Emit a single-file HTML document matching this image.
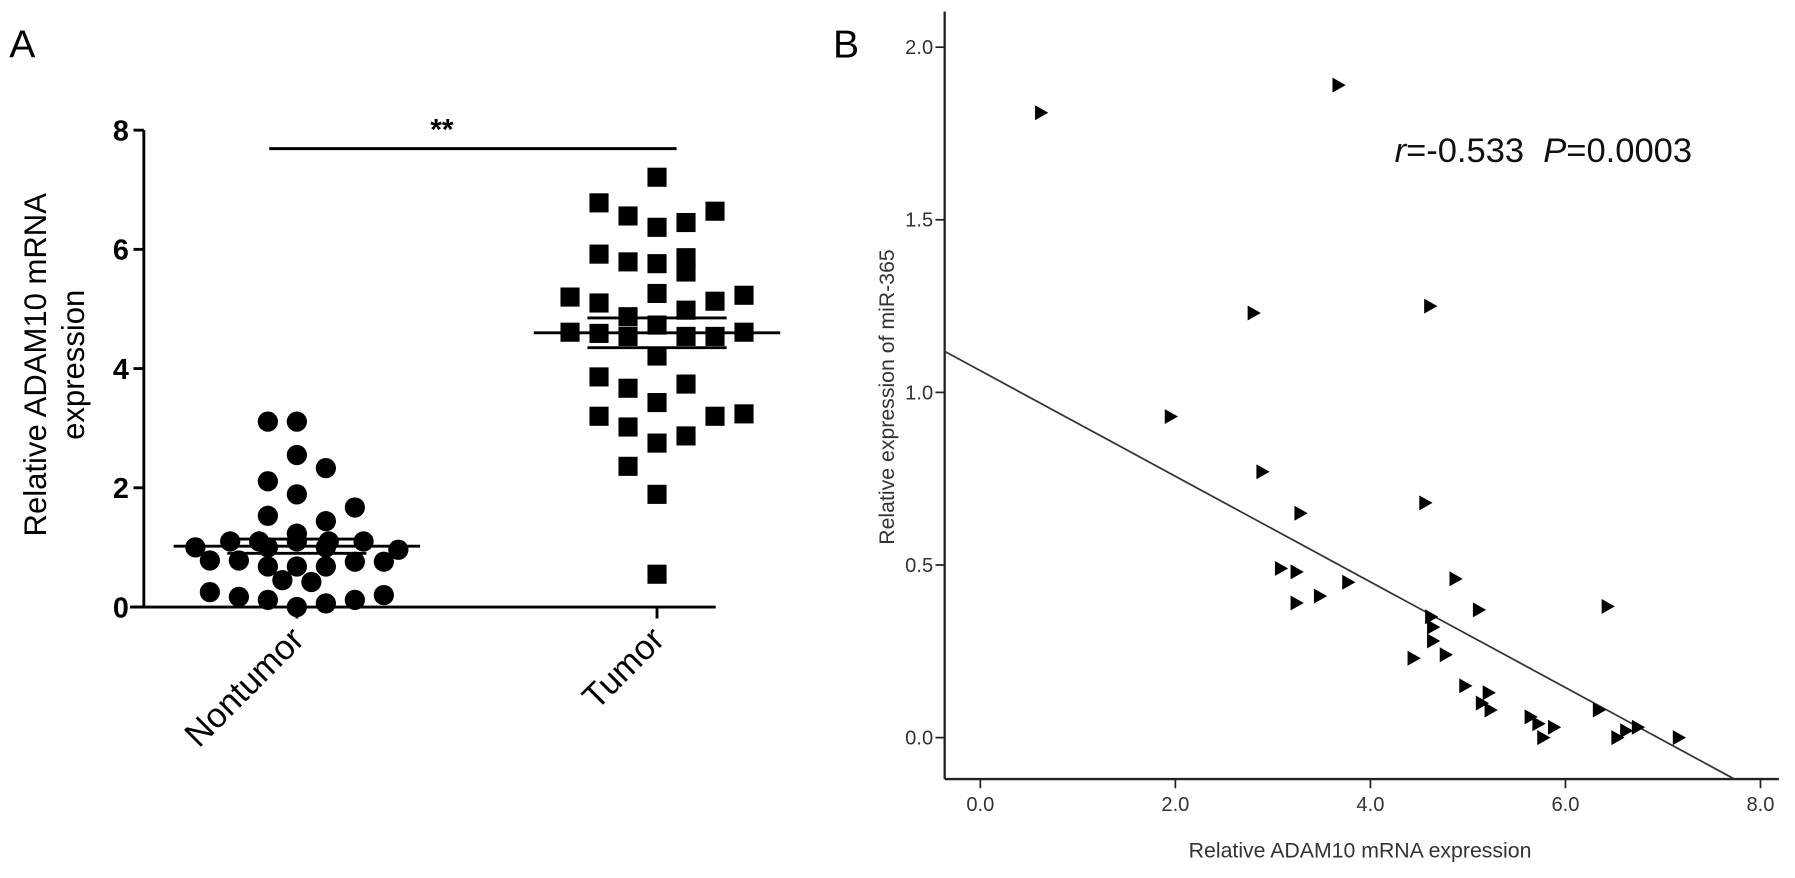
<!DOCTYPE html>
<html><head><meta charset="utf-8"><style>
html,body{margin:0;padding:0;background:#fff;}
svg{display:block;font-family:"Liberation Sans",Arial,sans-serif;}
</style></head><body>
<svg id="fig" width="1795" height="878" viewBox="0 0 1560 763" preserveAspectRatio="none" xmlns="http://www.w3.org/2000/svg">
<rect x="0" y="0" width="1560" height="763" fill="#fff"/>
<g id="pa"></g>
<g id="pb"></g>
</svg>
<script>
// ---------- Panel A data ----------
const aCategories = ["Nontumor", "Tumor"];
const aTicks = [0, 2, 4, 6, 8];
const nonValues = [3.11,3.11,2.55,2.33,2.11,1.89,1.67,1.53,1.44,1.23,1.1,1.1,1.1,1.1,1.1,1.0,0.96,1.0,1.0,0.78,0.78,0.68,0.68,0.68,0.76,0.76,0.45,0.42,0.25,0.17,0.12,0.0,0.06,0.12,0.2];
const nonSlots  = [-1,0,0,1,-1,0,2,-1,1,0,-2.3,-1.3,0,1.1,2.3,-3.5,3.5,-1,1,-3,-2,-1,0,1,2,3,-0.5,0.5,-3,-2,-1,0,1,2,3];
const tumValues = [7.21,6.78,6.56,6.37,6.45,6.64,5.92,5.79,5.76,5.86,5.62,5.2,5.1,5.26,5.13,5.23,4.87,4.98,4.61,4.59,4.54,4.73,4.54,4.54,4.61,4.21,3.86,3.67,3.74,3.43,3.2,3.2,3.24,3.02,2.75,2.87,2.36,1.89,0.55];
const tumSlots  = [0,-2,-1,0,1,2,-2,-1,0,1,1,-3,-2,0,2,3,-1,1,-3,-2,-1,0,1,2,3,0,-2,-1,1,0,-2,2,3,-1,0,1,-1,0,0];
const aMeans = [1.02, 4.6];
const aSemHi = [1.14, 4.85];
const aSemLo = [0.90, 4.35];
const aSigLevel = 7.69;
// ---------- Panel B data ----------
const bXTicks = [0, 2, 4, 6, 8];
const bYTicks = [0, 0.5, 1.0, 1.5, 2.0];
const bX = [0.62,3.67,2.80,4.61,1.95,2.89,3.28,4.56,3.08,3.24,3.77,3.24,3.48,4.87,5.11,4.62,4.64,4.64,4.77,4.44,4.97,5.21,5.14,5.23,5.64,5.72,5.88,5.77,6.34,6.53,6.62,6.74,7.16,6.43];
const bY = [1.81,1.89,1.23,1.25,0.93,0.77,0.65,0.68,0.49,0.48,0.45,0.39,0.41,0.46,0.37,0.35,0.32,0.28,0.24,0.23,0.15,0.13,0.10,0.08,0.06,0.04,0.03,0.00,0.08,0.00,0.02,0.03,0.00,0.38];
const bFit = [1.063, -0.153];
const bFitRange = [-0.37, 7.73];

const NS = "http://www.w3.org/2000/svg";
function mk(parent, tag, attrs, text){
  const e = document.createElementNS(NS, tag);
  for (const k in attrs) e.setAttribute(k, attrs[k]);
  if (text !== undefined) e.textContent = text;
  parent.appendChild(e);
  return e;
}
// ---------- Panel A ----------
const pa = document.getElementById('pa');
const aAxisX = 125, aY0 = 527.5, aPpu = 51.8, aSlot = 25.2;
const aCenters = [258, 571];
const ay = v => aY0 - v * aPpu;
const ax = (c, s) => aCenters[c] + s * aSlot;

let t = mk(pa, 'text', {x: 8, y: 50, 'font-size': 34}, 'A');



let l = mk(pa, 'line', {x1: aAxisX, y1: ay(8), x2: aAxisX, y2: aY0, stroke: '#000', 'stroke-width': 2.5});


l = mk(pa, 'line', {x1: 113, y1: aY0, x2: 622, y2: aY0, stroke: '#000', 'stroke-width': 2.5});



aTicks.forEach(v => {
  const tk = mk(pa, 'line', {x1: aAxisX - 9, y1: ay(v), x2: aAxisX, y2: ay(v), stroke: '#000', 'stroke-width': 2.5});
  
  
  const lb = mk(pa, 'text', {x: aAxisX - 13, y: ay(v) + 9, 'font-size': 25, 'font-weight': 'bold', 'text-anchor': 'end'}, String(v));
  
  
});
aCategories.forEach((c, i) => {
  const tk = mk(pa, 'line', {x1: aCenters[i], y1: aY0, x2: aCenters[i], y2: aY0 + 10, stroke: '#000', 'stroke-width': 2.5});
  
  
  const lb = mk(pa, 'text', {x: aCenters[i] + 8, y: aY0 + 30, 'font-size': 30, 'text-anchor': 'end', transform: `rotate(-45 ${aCenters[i] + 8} ${aY0 + 30})`}, c);
  
  
});
const yt = mk(pa, 'text', {x: 0, y: 0, 'font-size': 27, 'text-anchor': 'middle', transform: 'translate(40 317) rotate(-90)'});


mk(yt, 'tspan', {x: 0, dy: 0}, 'Relative ADAM10 mRNA');
mk(yt, 'tspan', {x: 0, dy: 33}, 'expression');

nonValues.forEach((v, i) => {
  const c = mk(pa, 'circle', {cx: ax(0, nonSlots[i]), cy: ay(v), r: 8.8, fill: '#000'});
  
  
});
tumValues.forEach((v, i) => {
  const r = mk(pa, 'rect', {x: ax(1, tumSlots[i]) - 8.3, y: ay(v) - 8.3, width: 16.6, height: 16.6, fill: '#000'});
  
  
});
aMeans.forEach((m, i) => {
  const ml = mk(pa, 'line', {x1: ax(i, -4.25), y1: ay(m), x2: ax(i, 4.25), y2: ay(m), stroke: '#000', 'stroke-width': 2.5});
  
  
  [aSemHi[i], aSemLo[i]].forEach(s => {
    const sl = mk(pa, 'line', {x1: ax(i, -2.4), y1: ay(s), x2: ax(i, 2.4), y2: ay(s), stroke: '#000', 'stroke-width': 2.5});
    
    
  });
});
l = mk(pa, 'line', {x1: 234, y1: ay(aSigLevel), x2: 588, y2: ay(aSigLevel), stroke: '#000', 'stroke-width': 2.5});


t = mk(pa, 'text', {x: 384, y: ay(aSigLevel) - 8, 'font-size': 26, 'font-weight': 'bold', 'text-anchor': 'middle'}, '**');



// ---------- Panel B ----------
const pb = document.getElementById('pb');
const bAxisX = 821, bAxisY = 677, bX0 = 852, bXppu = 84.75, bY0 = 641, bYppu = 300;
const bx = v => bX0 + v * bXppu;
const by = v => bY0 - v * bYppu;

t = mk(pb, 'text', {x: 724, y: 50, 'font-size': 34}, 'B');



l = mk(pb, 'line', {x1: bAxisX, y1: 10, x2: bAxisX, y2: bAxisY, stroke: '#222', 'stroke-width': 2});


l = mk(pb, 'line', {x1: bAxisX, y1: bAxisY, x2: 1546, y2: bAxisY, stroke: '#222', 'stroke-width': 2});



bYTicks.forEach(v => {
  const tk = mk(pb, 'line', {x1: bAxisX - 8, y1: by(v), x2: bAxisX, y2: by(v), stroke: '#222', 'stroke-width': 1.5});
  
  
  const lb = mk(pb, 'text', {x: bAxisX - 10, y: by(v) + 6, 'font-size': 17.5, fill: '#333', 'text-anchor': 'end'}, v.toFixed(1));
  
  
});
bXTicks.forEach(v => {
  const tk = mk(pb, 'line', {x1: bx(v), y1: bAxisY, x2: bx(v), y2: bAxisY + 8, stroke: '#222', 'stroke-width': 1.5});
  
  
  const lb = mk(pb, 'text', {x: bx(v), y: bAxisY + 28, 'font-size': 17.5, fill: '#333', 'text-anchor': 'middle'}, v.toFixed(1));
  
  
});
t = mk(pb, 'text', {x: 1182, y: 745, 'font-size': 18.5, fill: '#333', 'text-anchor': 'middle'}, 'Relative ADAM10 mRNA expression');


t = mk(pb, 'text', {x: 0, y: 0, 'font-size': 18.5, fill: '#333', 'text-anchor': 'middle', transform: 'translate(777 345) rotate(-90)'}, 'Relative expression of miR-365');



const fx1 = bFitRange[0], fx2 = bFitRange[1];
l = mk(pb, 'line', {x1: bx(fx1), y1: by(bFit[0] + bFit[1] * fx1), x2: bx(fx2), y2: by(bFit[0] + bFit[1] * fx2), stroke: '#333', 'stroke-width': 1.5});



bX.forEach((xv, i) => {
  const cx = bx(xv), cy = by(bY[i]);
  const p = mk(pb, 'polygon', {points: `${cx-5},${cy-6.5} ${cx+6.5},${cy} ${cx-5},${cy+6.5}`, fill: '#000'});
  
  
});

const st = mk(pb, 'text', {x: 1212, y: 141, 'font-size': 30, fill: '#111'});


mk(st, 'tspan', {'font-style': 'italic'}, 'r');
mk(st, 'tspan', {}, '=-0.533\u00a0\u00a0');
mk(st, 'tspan', {'font-style': 'italic'}, 'P');
mk(st, 'tspan', {}, '=0.0003');
</script>
</body></html>
